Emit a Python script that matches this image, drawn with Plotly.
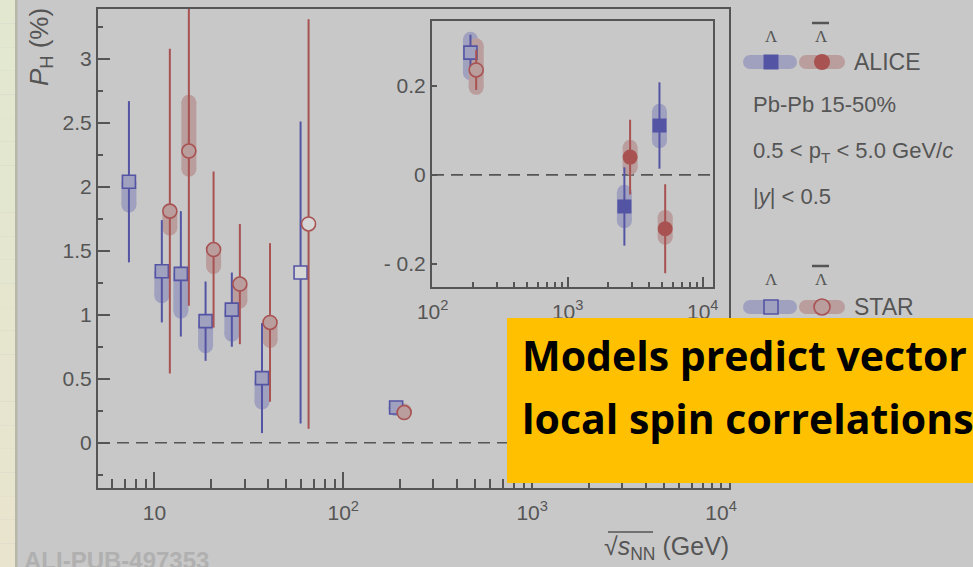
import math
import plotly.graph_objects as go

W, H = 973, 567

# ---------------- data ----------------
# STAR, Lambda (open squares)
star_e_lam = [7.7, 11.5, 14.5, 19.6, 27, 39, 62.4, 200]
star_lam = [2.04, 1.34, 1.32, 0.95, 1.04, 0.505, 1.33, 0.275]
star_lam_stat = [0.63, 0.40, 0.49, 0.31, 0.29, 0.43, 1.18, 0.04]
star_lam_sys_lo = [1.80, 1.09, 0.97, 0.70, 0.79, 0.26, None, 0.213]
star_lam_sys_hi = [2.09, 1.39, 1.38, 0.99, 1.08, 0.54, None, 0.322]

# STAR, anti-Lambda (open circles)
star_e_alam = [11.5, 14.5, 19.6, 27, 39, 62.4, 200]
star_alam = [1.81, 2.28, 1.51, 1.24, 0.94, 1.71, 0.236]
star_alam_stat = [1.27, 1.21, 0.61, 0.47, 0.62, 1.60, 0.045]
star_alam_sys_lo = [1.62, 2.08, 1.32, 1.05, 0.74, None, 0.18]
star_alam_sys_hi = [1.85, 2.72, 1.55, 1.28, 0.97, None, 0.307]

# ALICE Pb-Pb 15-50% (filled markers)
alice_e = [2760, 5020]
alice_lam = [-0.071, 0.111]
alice_lam_stat = [0.088, 0.097]
alice_lam_sys_lo = [-0.12, 0.06]
alice_lam_sys_hi = [-0.022, 0.16]
alice_alam = [0.040, -0.121]
alice_alam_stat = [0.084, 0.10]
alice_alam_sys_lo = [0.0, -0.157]
alice_alam_sys_hi = [0.079, -0.079]

main_xticks = [10, 100, 1000, 10000]
main_xticktext = ["10", "10<sup>2</sup>", "10<sup>3</sup>", "10<sup>4</sup>"]
inset_xticks = [100, 1000, 10000]
inset_xticktext = ["10<sup>2</sup>", "10<sup>3</sup>", "10<sup>4</sup>"]
inset_yticks = [-0.2, 0, 0.2]
inset_yticktext = ["- 0.2", "0", "0.2"]

# ---------------- style ----------------
BG = "#c8c8c8"
TXT = "#555555"
AX = "#555555"
BLUE = "#5454a4"
RED = "#a85252"
BLUE_BAND = "#a0a1bf"
RED_BAND = "#ba9d9d"
OPEN_FILL = "#d6d6d6"
FONT = "Liberation Sans, Arial, sans-serif"
SERIF = "Liberation Serif, Times New Roman, serif"
SHIFT = 1.05
BAND_W = 15


def px(x):
    return x / W


def py(y):
    return 1 - y / H


# axes geometry (pixels)
MAIN_L, MAIN_R, MAIN_T, MAIN_B = 98, 729, 9, 488
INS_L, INS_R, INS_T, INS_B = 432, 713, 21, 287
main_xr = [math.log10(5.03), 4.042]
main_yr = [-0.354, 3.39]
ins_xr = [1.995, 4.076]
ins_yr = [-0.252, 0.346]
k_main = (MAIN_B - MAIN_T) / (main_yr[1] - main_yr[0])
k_ins = (INS_B - INS_T) / (ins_yr[1] - ins_yr[0])

fig = go.Figure()


def band_trace(xs, lo, hi, color, k, xa, ya, xmin=None):
    r = BAND_W / 2 / k
    X, Y = [], []
    for x, a, b in zip(xs, lo, hi):
        if a is None or b is None:
            continue
        if xmin is not None and x < xmin:
            continue
        y0, y1 = a + r, b - r
        if y1 < y0:
            y0 = y1 = (a + b) / 2
        X += [x, x, None]
        Y += [y0, y1, None]
    return go.Scatter(x=X, y=Y, mode="lines+markers", xaxis=xa, yaxis=ya,
                      line=dict(width=BAND_W, color=color),
                      marker=dict(size=BAND_W, color=color, line=dict(width=0)),
                      hoverinfo="skip", showlegend=False)


def point_trace(xs, ys, err, symbol, size, line_c, fills, xa, ya, xmin=None, lw=1.6):
    X, Y, E, F = [], [], [], []
    for x, y, e, f in zip(xs, ys, err, fills):
        if xmin is not None and x < xmin:
            continue
        X.append(x); Y.append(y); E.append(e); F.append(f)
    return go.Scatter(x=X, y=Y, mode="markers", xaxis=xa, yaxis=ya,
                      error_y=dict(type="data", array=E, symmetric=True,
                                   thickness=2, width=0, color=line_c),
                      marker=dict(symbol=symbol, size=size, color=F,
                                  line=dict(width=lw, color=line_c)),
                      hoverinfo="skip", showlegend=False)


xl_star = [e / SHIFT for e in star_e_lam]
xa_star = [e * SHIFT for e in star_e_alam]
xl_alice = [e / SHIFT for e in alice_e]
xa_alice = [e * SHIFT for e in alice_e]

fill_l = [BLUE_BAND if s is not None else OPEN_FILL for s in star_lam_sys_lo]
fill_a = [RED_BAND if s is not None else OPEN_FILL for s in star_alam_sys_lo]

for (xa, ya, k, xmin) in [("x", "y", k_main, None), ("x2", "y2", k_ins, 100)]:
    fig.add_trace(band_trace(xl_star, star_lam_sys_lo, star_lam_sys_hi, BLUE_BAND, k, xa, ya, xmin))
    fig.add_trace(band_trace(xl_alice, alice_lam_sys_lo, alice_lam_sys_hi, BLUE_BAND, k, xa, ya, xmin))
    fig.add_trace(band_trace(xa_star, star_alam_sys_lo, star_alam_sys_hi, RED_BAND, k, xa, ya, xmin))
    fig.add_trace(band_trace(xa_alice, alice_alam_sys_lo, alice_alam_sys_hi, RED_BAND, k, xa, ya, xmin))
    fig.add_trace(point_trace(xl_star, star_lam, star_lam_stat, "square", 13, BLUE, fill_l, xa, ya, xmin))
    fig.add_trace(point_trace(xl_alice, alice_lam, alice_lam_stat, "square", 14, BLUE, [BLUE] * 2, xa, ya, xmin, lw=0))
    fig.add_trace(point_trace(xa_star, star_alam, star_alam_stat, "circle", 14, RED, fill_a, xa, ya, xmin))
    fig.add_trace(point_trace(xa_alice, alice_alam, alice_alam_stat, "circle", 15, RED, [RED] * 2, xa, ya, xmin, lw=0))

# ---------------- legend symbols on a pixel overlay axis ----------------
def pill(x0, x1, y, color):
    r = 7
    return go.Scatter(x=[x0 + r, x1 - r], y=[y, y], mode="lines+markers", xaxis="x3", yaxis="y3",
                      line=dict(width=14, color=color),
                      marker=dict(size=14, color=color, line=dict(width=0)),
                      hoverinfo="skip", showlegend=False)


for yrow in (62, 307):
    fig.add_trace(pill(743, 797, yrow, BLUE_BAND))
    fig.add_trace(pill(799, 845, yrow, RED_BAND))
fig.add_trace(go.Scatter(x=[771], y=[62], mode="markers", xaxis="x3", yaxis="y3",
                         marker=dict(symbol="square", size=15, color=BLUE, line=dict(width=0)),
                         hoverinfo="skip", showlegend=False))
fig.add_trace(go.Scatter(x=[822], y=[62], mode="markers", xaxis="x3", yaxis="y3",
                         marker=dict(symbol="circle", size=16, color=RED, line=dict(width=0)),
                         hoverinfo="skip", showlegend=False))
fig.add_trace(go.Scatter(x=[771], y=[307], mode="markers", xaxis="x3", yaxis="y3",
                         marker=dict(symbol="square", size=14, color=BLUE_BAND, line=dict(width=1.6, color=BLUE)),
                         hoverinfo="skip", showlegend=False))
fig.add_trace(go.Scatter(x=[822], y=[307], mode="markers", xaxis="x3", yaxis="y3",
                         marker=dict(symbol="circle", size=16, color=RED_BAND, line=dict(width=1.6, color=RED)),
                         hoverinfo="skip", showlegend=False))

# ---------------- axes ----------------
def minor_vals(decades):
    out = []
    for d in decades:
        for m in range(2, 10):
            out.append(m * 10 ** d)
    return out


tickfont = dict(family=FONT, size=21, color=TXT)
common = dict(showline=True, linecolor=AX, linewidth=2, mirror=True, showgrid=False,
              zeroline=False, ticks="inside", tickcolor=AX, tickwidth=1.5, tickfont=tickfont,
              automargin=False)

fig.update_layout(
    width=W, height=H, margin=dict(l=0, r=0, t=0, b=0, autoexpand=False),
    paper_bgcolor=BG, plot_bgcolor="rgba(0,0,0,0)", showlegend=False,
    xaxis=dict(type="log", range=main_xr, domain=[px(MAIN_L), px(MAIN_R)], anchor="y",
               tickmode="array", tickvals=main_xticks, ticktext=main_xticktext, ticklen=16,
               ticklabelstandoff=5,
               minor=dict(tickmode="array", tickvals=minor_vals([0, 1, 2, 3]), ticks="inside",
                          ticklen=9, tickwidth=1.5, tickcolor=AX), **common),
    yaxis=dict(range=main_yr, domain=[py(MAIN_B), py(MAIN_T)], anchor="x",
               tickmode="linear", tick0=0, dtick=0.5, ticklen=12, ticklabelstandoff=0,
               minor=dict(tickmode="linear", tick0=0, dtick=0.25, ticks="inside",
                          ticklen=5, tickwidth=1.5, tickcolor=AX), **common),
    xaxis2=dict(type="log", range=ins_xr, domain=[px(INS_L), px(INS_R)], anchor="y2",
                tickmode="array", tickvals=inset_xticks, ticktext=inset_xticktext, ticklen=10,
                ticklabelstandoff=5,
                minor=dict(tickmode="array", tickvals=minor_vals([2, 3]), ticks="inside",
                           ticklen=5, tickwidth=1.5, tickcolor=AX), **common),
    yaxis2=dict(range=ins_yr, domain=[py(INS_B), py(INS_T)], anchor="x2",
                tickmode="array", tickvals=inset_yticks, ticktext=inset_yticktext, ticklen=5,
                ticklabelstandoff=0, **common),
    xaxis3=dict(range=[0, W], domain=[0, 1], visible=False, anchor="y3", fixedrange=True,
                automargin=False),
    yaxis3=dict(range=[H, 0], domain=[0, 1], visible=False, anchor="x3", fixedrange=True,
                automargin=False),
)

shapes = []
# left decorative strip (vertical gradient)
n = 24
c0, c1 = (226, 232, 208), (233, 228, 206)
for i in range(n):
    t = i / (n - 1)
    c = tuple(int(round(a + (b - a) * t)) for a, b in zip(c0, c1))
    shapes.append(dict(type="rect", xref="paper", yref="paper", x0=0, x1=px(15),
                       y0=1 - (i + 1) / n, y1=1 - i / n, line=dict(width=0),
                       fillcolor="rgb(%d,%d,%d)" % c, layer="below"))
shapes.append(dict(type="rect", xref="paper", yref="paper", x0=px(15), x1=px(17.5), y0=0, y1=1,
                   line=dict(width=0), fillcolor="#b8b8a8", layer="below"))
# dashed zero lines
shapes.append(dict(type="line", xref="x domain", yref="y", x0=0, x1=1, y0=0, y1=0,
                   line=dict(color=AX, width=1.6, dash="12px,7px"), layer="below"))
shapes.append(dict(type="line", xref="x2 domain", yref="y2", x0=0, x1=1, y0=0, y1=0,
                   line=dict(color=AX, width=1.6, dash="12px,7px"), layer="below"))
# overlines for anti-Lambda labels
for yo in (23, 266):
    shapes.append(dict(type="line", xref="paper", yref="paper", x0=px(812), x1=px(829),
                       y0=py(yo), y1=py(yo), line=dict(color=TXT, width=2.5)))
# overline of the square root in the x title
shapes.append(dict(type="line", xref="paper", yref="paper", x0=px(608), x1=px(653),
                   y0=py(532), y1=py(532), line=dict(color=TXT, width=1.5)))
# yellow overlay box
shapes.append(dict(type="rect", xref="paper", yref="paper", x0=px(507), x1=1.01,
                   y0=py(483), y1=py(318), line=dict(width=0), fillcolor="#ffc000", layer="above"))
fig.update_layout(shapes=shapes)


def ann(text, x, y, size=20, xanchor="left", yanchor="middle", color=TXT, family=FONT,
        angle=0, weight=None):
    f = dict(family=family, size=size, color=color)
    if weight:
        f["weight"] = weight
    fig.add_annotation(text=text, x=px(x), y=py(y), xref="paper", yref="paper",
                       xanchor=xanchor, yanchor=yanchor, showarrow=False, font=f,
                       textangle=angle)


# axis titles
ann("<i>P</i><sub>H</sub> (%)", 40, 47, size=26, xanchor="center", angle=-90)
ann("√<i>s</i><sub>NN</sub> (GeV)", 666, 548, size=25, xanchor="center")
# legend texts
ann("Λ", 771, 37, size=17, xanchor="center", family=SERIF)
ann("Λ", 821, 37, size=17, xanchor="center", family=SERIF)
ann("ALICE", 852, 62, size=23)
ann("Pb-Pb 15-50%", 751, 104, size=22)
ann("0.5 < p<sub>T</sub> < 5.0 GeV/<i>c</i>", 751, 152, size=22)
ann("|<i>y</i>| < 0.5", 751, 196, size=22)
ann("Λ", 771, 279, size=17, xanchor="center", family=SERIF)
ann("Λ", 821, 279, size=17, xanchor="center", family=SERIF)
ann("STAR", 852, 307, size=23)
# watermark
ann("ALI-PUB-497353", 22, 560, size=24, color="#b0b0b0", weight="bold")
# overlay box text
ann("Models predict vector", 520, 355, size=41, color="#000000", family="Open Sans, sans-serif", weight="bold")
ann("local spin correlations", 520, 418, size=41, color="#000000", family="Open Sans, sans-serif", weight="bold")

fig.write_html("out.html")
